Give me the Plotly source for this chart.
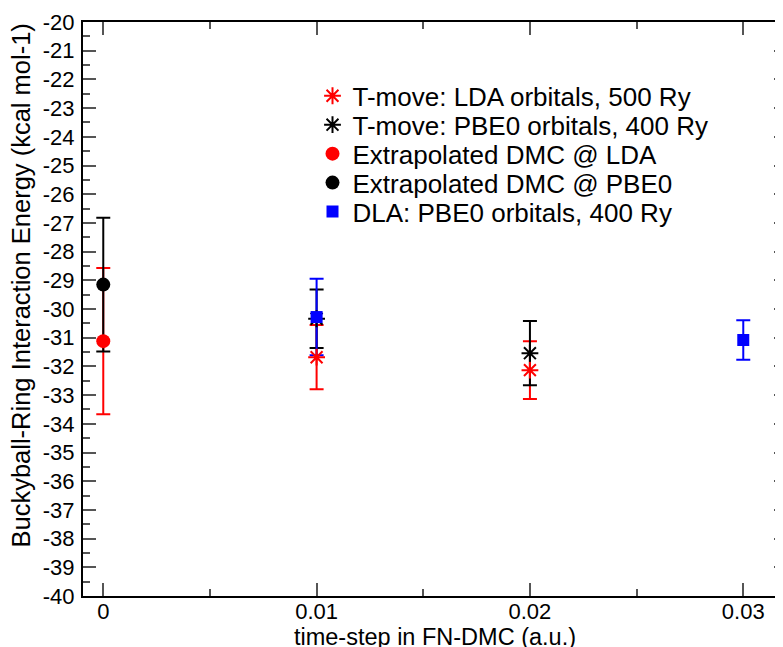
import plotly.graph_objects as go

# ---- data ----
tmove_lda_x = [0.01, 0.02]
tmove_lda_y = [-31.68, -32.13]
tmove_lda_err = [1.12, 1.01]

tmove_pbe0_x = [0.01, 0.02]
tmove_pbe0_y = [-30.34, -31.54]
tmove_pbe0_err = [1.02, 1.12]

extrap_lda_x = [0.0]
extrap_lda_y = [-31.12]
extrap_lda_err = [2.55]

extrap_pbe0_x = [0.0]
extrap_pbe0_y = [-29.15]
extrap_pbe0_err = [2.33]

dla_pbe0_x = [0.01, 0.03]
dla_pbe0_y = [-30.28, -31.08]
dla_pbe0_err = [1.33, 0.69]

x_tick_vals = [0.0, 0.01, 0.02, 0.03]
x_tick_labels = ["0", "0.01", "0.02", "0.03"]
y_tick_vals = list(range(-40, -19))
y_tick_labels = [str(v) for v in y_tick_vals]

FONT = "Liberation Sans, Arial, sans-serif"
TICK_FS = 22
XTITLE_FS = 23.5
YTITLE_FS = 25.5
LEG_FS = 26

series = [
    ("T-move: LDA orbitals, 500 Ry", tmove_lda_x, tmove_lda_y, tmove_lda_err, "#ff0000", "asterisk-open", 14),
    ("T-move: PBE0 orbitals, 400 Ry", tmove_pbe0_x, tmove_pbe0_y, tmove_pbe0_err, "#000000", "asterisk-open", 14),
    ("Extrapolated DMC @ LDA", extrap_lda_x, extrap_lda_y, extrap_lda_err, "#ff0000", "circle", 14),
    ("Extrapolated DMC @ PBE0", extrap_pbe0_x, extrap_pbe0_y, extrap_pbe0_err, "#000000", "circle", 14),
    ("DLA: PBE0 orbitals, 400 Ry", dla_pbe0_x, dla_pbe0_y, dla_pbe0_err, "#0000ff", "square", 12),
]

legend_ids = ["legend", "legend2", "legend3", "legend4", "legend5"]
legend_rows_y = [0.8713, 0.8209, 0.7705, 0.7200, 0.6696]

fig = go.Figure()

# error bars first (so that all markers sit on top)
for name, xs, ys, es, col, sym, sz in series:
    fig.add_trace(go.Scatter(
        x=xs, y=ys, mode="markers", showlegend=False, hoverinfo="skip",
        marker=dict(size=1, opacity=0, color=col),
        error_y=dict(type="data", array=es, symmetric=True, color=col,
                     thickness=2, width=7),
    ))

for (name, xs, ys, es, col, sym, sz), lid in zip(series, legend_ids):
    if sym.startswith("asterisk"):
        marker = dict(symbol=sym, size=sz, color=col, line=dict(color=col, width=2))
    else:
        marker = dict(symbol=sym, size=sz, color=col, line=dict(width=0))
    fig.add_trace(go.Scatter(x=xs, y=ys, mode="markers", name=name, marker=marker, legend=lid))

tick_col = "#555555"

layout_legends = {}
for lid, ly in zip(legend_ids, legend_rows_y):
    layout_legends[lid] = dict(x=0.326, y=ly, xanchor="left", yanchor="middle",
                               bgcolor="rgba(0,0,0,0)", borderwidth=0,
                               font=dict(family=FONT, size=LEG_FS, color="black"))

fig.update_layout(
    width=783, height=647,
    margin=dict(l=75, r=2, t=13, b=59),
    paper_bgcolor="white", plot_bgcolor="white",
    font=dict(family=FONT, size=TICK_FS, color="black"),
    showlegend=True,
    xaxis=dict(
        range=[-0.00095, 0.03205], tickvals=x_tick_vals, ticktext=x_tick_labels,
        ticks="inside", ticklen=13, tickwidth=1.5, tickcolor=tick_col,
        minor=dict(dtick=0.005, tick0=0, ticks="inside", ticklen=7, tickwidth=1.5, tickcolor=tick_col),
        showline=True, linecolor="black", linewidth=2, mirror="ticks",
        showgrid=False, zeroline=False,
        tickfont=dict(family=FONT, size=TICK_FS),
        ticklabelstandoff=-5,
        title=dict(text="time-step in FN-DMC (a.u.)", font=dict(family=FONT, size=XTITLE_FS), standoff=0),
    ),
    yaxis=dict(
        range=[-40, -20], tickvals=y_tick_vals, ticktext=y_tick_labels,
        ticks="inside", ticklen=13, tickwidth=1.5, tickcolor=tick_col,
        minor=dict(dtick=0.5, tick0=0, ticks="inside", ticklen=7, tickwidth=1.5, tickcolor=tick_col),
        showline=True, linecolor="black", linewidth=2, mirror="ticks",
        showgrid=False, zeroline=False,
        tickfont=dict(family=FONT, size=TICK_FS),
        ticklabelstandoff=2,
    ),
    annotations=[dict(
        text="Buckyball-Ring Interaction Energy (kcal mol-1)",
        xref="paper", yref="paper", x=-0.088, y=0.541,
        xanchor="center", yanchor="middle", textangle=-90, showarrow=False,
        font=dict(family=FONT, size=YTITLE_FS, color="black"),
    )],
    **layout_legends,
)

fig.write_html("out.html")
